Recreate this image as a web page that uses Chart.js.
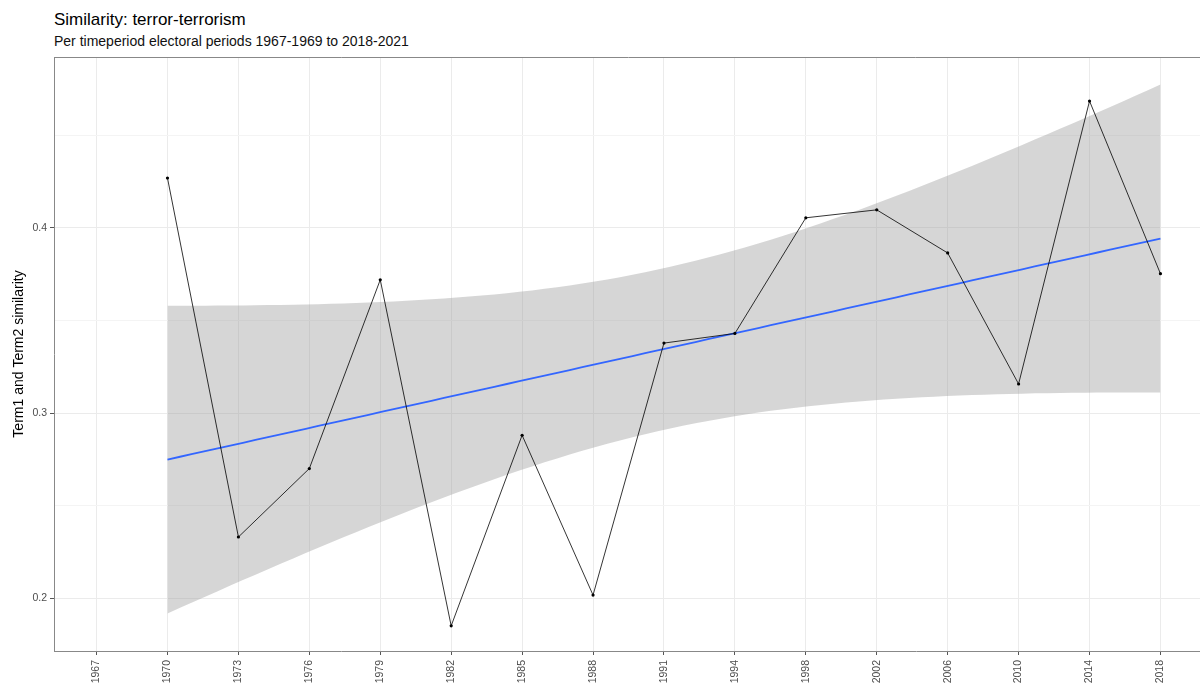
<!DOCTYPE html>
<html>
<head>
<meta charset="utf-8">
<title>Similarity: terror-terrorism</title>
<script src="https://cdn.jsdelivr.net/npm/chart.js@4.4.1/dist/chart.umd.min.js"></script>
<style>
  html, body { margin:0; padding:0; background:#fff; overflow:hidden; width:1200px; height:684px; }
  #wrap { position:relative; width:1200px; height:684px; }
  #wrap canvas { position:absolute; left:0; top:0; }
  .ttl { position:absolute; left:54px; font-family:"Liberation Sans", Arial, sans-serif; color:#000; white-space:nowrap; line-height:1.15; }
</style>
</head>
<body>
<div id="wrap">
  <div class="ttl" style="top:10px;font-size:17px;">Similarity: terror-terrorism</div>
  <div class="ttl" style="top:33px;font-size:14px;color:#111;">Per timeperiod electoral periods 1967-1969 to 2018-2021</div>
  <canvas id="simChart" width="1210" height="684"></canvas>
</div>
<script>
// categories on the x axis (electoral period start years)
const periods = ['1967','1970','1973','1976','1979','1982','1985','1988','1991','1994','1998','2002','2006','2010','2014','2018'];
// periods that have a similarity value
const simPeriods = ['1970','1973','1976','1979','1982','1985','1988','1991','1994','1998','2002','2006','2010','2014','2018'];
const simValues  = [0.427, 0.233, 0.270, 0.372, 0.185, 0.288, 0.2016, 0.3378, 0.343, 0.4055, 0.4098, 0.3865, 0.3157, 0.4686, 0.3753];
const yLabels = [0.2, 0.3, 0.4];

const FONT = '"Liberation Sans", Arial, sans-serif';

// points on the discrete axis
const pts = simPeriods.map((p, i) => ({ x: periods.indexOf(p), y: simValues[i] }));

// geom_smooth(method = 'lm') : fit + 95% band
const n = pts.length;
const mx = pts.reduce((s, p) => s + p.x, 0) / n;
const my = pts.reduce((s, p) => s + p.y, 0) / n;
let sxx = 0, sxy = 0;
pts.forEach(p => { sxx += (p.x - mx) ** 2; sxy += (p.x - mx) * (p.y - my); });
const slope = sxy / sxx, icept = my - slope * mx;
let sse = 0;
pts.forEach(p => { sse += (p.y - (icept + slope * p.x)) ** 2; });
const sRes = Math.sqrt(sse / (n - 2));
const tCrit = 2.160369; // t(0.975, df = 13)
const x0 = pts[0].x, x1 = pts[n - 1].x;
const fitLine = [], bandHi = [], bandLo = [];
for (let k = 0; k < 80; k++) {
  const x = x0 + (x1 - x0) * k / 79;
  const yhat = icept + slope * x;
  const se = sRes * Math.sqrt(1 / n + (x - mx) ** 2 / sxx);
  fitLine.push({ x, y: yhat });
  bandHi.push({ x, y: yhat + tCrit * se });
  bandLo.push({ x, y: yhat - tCrit * se });
}

const isMajor = v => yLabels.some(t => Math.abs(t - v) < 1e-6);

const panelBorder = {
  id: 'panelBorder',
  afterDatasetsDraw(chart) {
    const { ctx, chartArea: a } = chart;
    ctx.save();
    ctx.strokeStyle = '#888';
    ctx.lineWidth = 1;
    ctx.beginPath();
    ctx.moveTo(a.left, a.top + 0.5);
    ctx.lineTo(a.right, a.top + 0.5);
    ctx.stroke();
    ctx.restore();
  }
};

new Chart(document.getElementById('simChart'), {
  type: 'line',
  data: {
    datasets: [
      { data: pts, borderColor: '#000', borderWidth: 0.8, pointRadius: 1.6, pointBackgroundColor: '#000',
        pointBorderWidth: 0, tension: 0, fill: false, order: 0 },
      { data: fitLine, borderColor: '#3366FF', borderWidth: 1.8, pointRadius: 0, fill: false, order: 1 },
      { data: bandHi, borderWidth: 0, borderColor: 'transparent', pointRadius: 0,
        backgroundColor: 'rgba(153,153,153,0.4)', fill: '+1', order: 2 },
      { data: bandLo, borderWidth: 0, borderColor: 'transparent', pointRadius: 0, fill: false, order: 3 },
    ]
  },
  options: {
    responsive: false, animation: false, devicePixelRatio: 1,
    layout: { padding: { top: 57, right: 7, left: 0, bottom: 0 } },
    plugins: { legend: { display: false }, tooltip: { enabled: false }, title: { display: false } },
    scales: {
      x: {
        type: 'linear', min: -0.6, max: 15.6,
        afterFit: s => { s.height = 33; },
        border: { color: '#888', width: 1 },
        grid: { color: '#ebebeb', lineWidth: 1, tickLength: 4, tickColor: '#555' },
        ticks: {
          stepSize: 1, includeBounds: false, autoSkip: false,
          minRotation: 90, maxRotation: 90, padding: 5,
          color: '#4d4d4d', font: { family: FONT, size: 10.5 },
          callback: v => Number.isInteger(v) ? (periods[v] || '') : ''
        }
      },
      y: {
        min: 0.1714, max: 0.4924,
        afterFit: s => { s.width = 54; },
        border: { color: '#888', width: 1 },
        grid: {
          color: c => isMajor(c.tick.value) ? '#ebebeb' : '#f4f4f4',
          tickLength: 4,
          tickColor: c => isMajor(c.tick.value) ? '#555' : 'transparent'
        },
        ticks: {
          stepSize: 0.05, includeBounds: false, padding: 3,
          color: '#4d4d4d', font: { family: FONT, size: 10.5 },
          callback: v => isMajor(v) ? v.toFixed(1) : ''
        },
        title: { display: true, text: 'Term1 and Term2 similarity', color: '#000',
          font: { family: FONT, size: 14 }, padding: { top: 11, bottom: 0 } }
      }
    }
  },
  plugins: [panelBorder]
});
</script>
</body>
</html>
